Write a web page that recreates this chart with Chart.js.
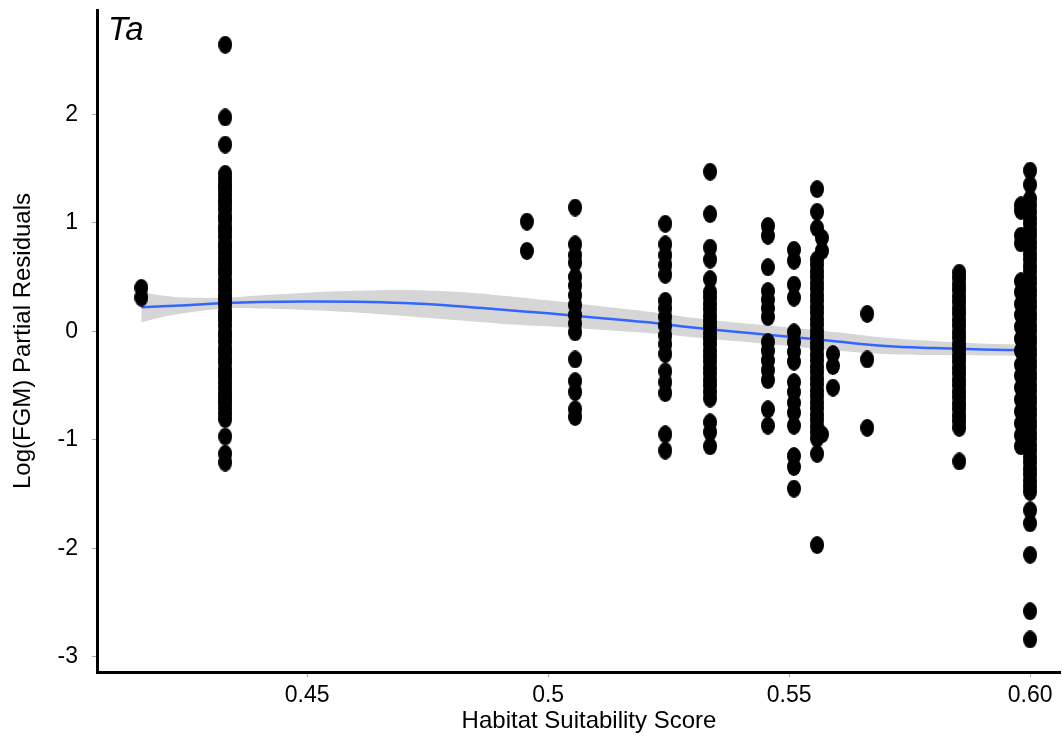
<!DOCTYPE html>
<html>
<head>
<meta charset="utf-8">
<script src="https://cdn.jsdelivr.net/npm/chart.js@4.4.1/dist/chart.umd.min.js"></script>
<style>
  body { margin: 0; background: #fff; }
  canvas { display: block; background: #fff; }
</style>
</head>
<body>
<canvas id="chart" width="1062" height="738"></canvas>
<script>
// habitat suitability score of each sampling group, and the residuals measured there
const scoreA = 0.4156, residA = [0.40, 0.31];
const scoreB = 0.4330, residB = [2.64, 1.97, 1.72, 1.45, 1.40, 1.35, 1.31, 1.26, 1.21, 1.17, 1.12, 1.06, 1.02, 0.96, 0.92, 0.87, 0.81, 0.77, 0.72, 0.67, 0.62, 0.57, 0.53, 0.47, 0.43, 0.38, 0.33, 0.29, 0.24, 0.18, 0.14, 0.10, 0.05, -0.01, -0.05, -0.10, -0.16, -0.20, -0.25, -0.29, -0.35, -0.39, -0.43, -0.48, -0.53, -0.58, -0.62, -0.66, -0.71, -0.76, -0.81, -0.97, -1.13, -1.21];
const scoreC = 0.4956, residC = [1.01, 0.74];
const scoreD = 0.5056, residD = [1.14, 0.80, 0.70, 0.63, 0.50, 0.42, 0.33, 0.24, 0.15, 0.07, -0.01, -0.26, -0.46, -0.56, -0.72, -0.79];
const scoreE = 0.5243, residE = [0.99, 0.80, 0.70, 0.61, 0.52, 0.28, 0.21, 0.13, 0.05, -0.04, -0.12, -0.21, -0.37, -0.47, -0.57, -0.95, -1.10];
const scoreF = 0.5336, residF = [1.47, 1.08, 0.77, 0.66, 0.48, 0.36, 0.31, 0.25, 0.20, 0.14, 0.09, 0.04, -0.02, -0.07, -0.12, -0.18, -0.23, -0.28, -0.34, -0.39, -0.45, -0.50, -0.56, -0.62, -0.84, -0.93, -1.06];
const scoreG = 0.5456, residG = [0.97, 0.88, 0.59, 0.37, 0.29, 0.21, 0.13, -0.10, -0.18, -0.27, -0.36, -0.45, -0.72, -0.87];
const scoreH = 0.5510, residH = [0.75, 0.65, 0.43, 0.31, -0.01, -0.10, -0.19, -0.28, -0.47, -0.56, -0.66, -0.75, -0.87, -1.15, -1.25, -1.45];
const scoreI = 0.5558, residI = [1.31, 1.10, 0.95, 0.66, 0.61, 0.55, 0.50, 0.44, 0.39, 0.33, 0.28, 0.22, 0.17, 0.11, 0.06, 0.00, -0.05, -0.11, -0.16, -0.22, -0.27, -0.33, -0.38, -0.44, -0.49, -0.55, -0.60, -0.66, -0.71, -0.77, -0.82, -0.88, -0.93, -0.99, -1.13, -1.97];
const scoreI2 = 0.5568, residI2 = [0.86, 0.74, -0.95];
const scoreJ = 0.5591, residJ = [-0.21, -0.32, -0.52];
const scoreK = 0.5662, residK = [0.16, -0.26, -0.89];
const scoreL = 0.5853, residL = [0.54, 0.49, 0.43, 0.38, 0.32, 0.27, 0.21, 0.16, 0.10, 0.05, -0.01, -0.06, -0.12, -0.17, -0.23, -0.28, -0.34, -0.39, -0.45, -0.50, -0.56, -0.61, -0.67, -0.72, -0.78, -0.83, -0.89, -1.20];
const scoreM = 0.6000, residM = [1.48, 1.35, 1.22, 1.16, 1.10, 1.04, 0.99, 0.93, 0.88, 0.82, 0.77, 0.71, 0.66, 0.60, 0.55, 0.49, 0.44, 0.38, 0.33, 0.27, 0.22, 0.16, 0.11, 0.05, 0.00, -0.06, -0.11, -0.17, -0.22, -0.28, -0.33, -0.39, -0.44, -0.50, -0.55, -0.61, -0.66, -0.72, -0.77, -0.83, -0.88, -0.94, -0.99, -1.05, -1.10, -1.16, -1.21, -1.27, -1.32, -1.38, -1.43, -1.48, -1.65, -1.77, -2.06, -2.58, -2.84];
const scoreM2 = 0.5981, residM2 = [1.16, 1.11, 0.88, 0.81, 0.46, 0.36, 0.25, 0.15, 0.04, -0.07, -0.18, -0.31, -0.41, -0.52, -0.63, -0.74, -0.85, -0.96, -1.06];

// smoothed fit and its confidence band
const fitScore = [0.4156, 0.420, 0.425, 0.433, 0.440, 0.450, 0.460, 0.470, 0.480, 0.490, 0.500, 0.510, 0.520, 0.530, 0.540, 0.550, 0.560, 0.570, 0.580, 0.590, 0.600];
const fitValue = [0.22, 0.23, 0.24, 0.26, 0.27, 0.275, 0.272, 0.26, 0.235, 0.20, 0.165, 0.125, 0.085, 0.035, -0.01, -0.05, -0.095, -0.135, -0.155, -0.168, -0.175];
const fitLower = [0.08, 0.13, 0.17, 0.21, 0.21, 0.195, 0.172, 0.14, 0.105, 0.07, 0.045, 0.015, -0.015, -0.055, -0.095, -0.135, -0.18, -0.21, -0.22, -0.223, -0.225];
const fitUpper = [0.36, 0.33, 0.31, 0.31, 0.33, 0.355, 0.372, 0.38, 0.365, 0.33, 0.285, 0.235, 0.185, 0.125, 0.075, 0.035, -0.01, -0.06, -0.09, -0.113, -0.125];

const xTicks = [0.45, 0.5, 0.55, 0.6];
const xTickLabels = ['0.45', '0.5', '0.55', '0.60'];
const yTicks = [-3, -2, -1, 0, 1, 2];

const groups = [
  [scoreA, residA], [scoreB, residB], [scoreC, residC], [scoreD, residD],
  [scoreE, residE], [scoreF, residF], [scoreG, residG], [scoreH, residH],
  [scoreI, residI], [scoreI2, residI2], [scoreJ, residJ], [scoreK, residK],
  [scoreL, residL], [scoreM, residM], [scoreM2, residM2]
];
const points = groups.flatMap(([x, ys]) => ys.map(y => ({ x, y })));
const curve = arr => fitScore.map((x, i) => ({ x, y: arr[i] }));

// black oval marker
function makeDot(w, h) {
  const c = document.createElement('canvas');
  c.width = w;
  c.height = h;
  const g = c.getContext('2d');
  g.fillStyle = '#000';
  g.beginPath();
  g.ellipse(w / 2, h / 2, w / 2, h / 2, 0, 0, Math.PI * 2);
  g.fill();
  return c;
}
const dot = makeDot(14, 18);

const FONT = '"Liberation Sans", Arial, sans-serif';

// panel tag in the corner and the x axis title, a little right of centre
const annotations = {
  id: 'annotations',
  afterDraw(chart) {
    const ctx = chart.ctx;
    const area = chart.chartArea;
    ctx.save();
    ctx.fillStyle = '#000';
    ctx.font = 'italic 33px ' + FONT;
    ctx.textBaseline = 'alphabetic';
    ctx.fillText('Ta', area.left + 11, area.top + 30);
    ctx.font = '24px ' + FONT;
    ctx.textAlign = 'center';
    ctx.textBaseline = 'middle';
    ctx.fillText('Habitat Suitability Score', 589, chart.height - 17);
    ctx.restore();
  }
};

// keep the plot area at fixed edges regardless of label overhang
function fixBox(size) {
  return s => {
    if (s.isHorizontal()) s.height = size; else s.width = size;
    s.paddingTop = s.paddingBottom = s.paddingLeft = s.paddingRight = 0;
  };
}

Chart.defaults.font.family = FONT;
Chart.defaults.color = '#000';

const axisGrid = { drawOnChartArea: false, tickLength: 5, tickColor: '#aaa', tickWidth: 1 };
const axisBorder = { color: '#000', width: 3 };

new Chart(document.getElementById('chart'), {
  type: 'scatter',
  data: {
    datasets: [
      {
        label: 'residuals',
        data: points,
        pointStyle: dot,
        pointRadius: 7,
        pointHoverRadius: 7,
        backgroundColor: '#000',
        showLine: false
      },
      {
        label: 'fit',
        data: curve(fitValue),
        showLine: true,
        borderColor: '#3366ff',
        borderWidth: 2.5,
        pointRadius: 0,
        tension: 0.4,
        fill: false
      },
      {
        label: 'upper',
        data: curve(fitUpper),
        showLine: true,
        borderWidth: 0,
        borderColor: 'rgba(0,0,0,0)',
        pointRadius: 0,
        tension: 0.4,
        backgroundColor: 'rgb(214,214,214)',
        fill: '+1'
      },
      {
        label: 'lower',
        data: curve(fitLower),
        showLine: true,
        borderWidth: 0,
        borderColor: 'rgba(0,0,0,0)',
        pointRadius: 0,
        tension: 0.4,
        fill: false
      }
    ]
  },
  options: {
    responsive: false,
    animation: false,
    layout: { autoPadding: false, padding: { top: 10, right: 2, left: 0, bottom: 0 } },
    plugins: {
      legend: { display: false },
      tooltip: { enabled: false }
    },
    scales: {
      x: {
        type: 'linear',
        min: 0.4064,
        max: 0.6062,
        afterFit: fixBox(66),
        afterBuildTicks: s => { s.ticks = xTicks.map(v => ({ value: v })); },
        ticks: {
          autoSkip: false,
          maxRotation: 0,
          padding: 5,
          font: { size: 23 },
          callback: v => xTickLabels[xTicks.indexOf(v)]
        },
        grid: axisGrid,
        border: axisBorder
      },
      y: {
        type: 'linear',
        min: -3.14,
        max: 2.96,
        afterFit: fixBox(97),
        afterBuildTicks: s => { s.ticks = yTicks.map(v => ({ value: v })); },
        ticks: { padding: 14, font: { size: 23 } },
        grid: axisGrid,
        border: axisBorder,
        title: {
          display: true,
          text: 'Log(FGM) Partial Residuals',
          font: { size: 24 },
          padding: { top: 9, bottom: 0 }
        }
      }
    }
  },
  plugins: [annotations]
});
</script>
</body>
</html>
